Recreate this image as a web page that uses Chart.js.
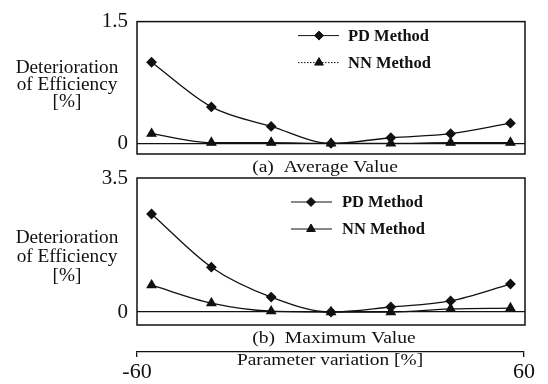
<!DOCTYPE html>
<html>
<head>
<meta charset="utf-8">
<script src="https://cdn.jsdelivr.net/npm/chart.js@4.4.1/dist/chart.umd.min.js"></script>
<style>
  html, body { margin: 0; padding: 0; background: #fff; }
  .wrap { position: absolute; left: 0; top: 0; width: 548px; height: 384px; }
</style>
</head>
<body>
<div class="wrap"><canvas id="avgChart"></canvas></div>
<div class="wrap"><canvas id="maxChart"></canvas></div>
<div class="wrap"><canvas id="axisChart"></canvas></div>
<script>
// Datos
const paramVariation = [-55.5, -37, -18.5, 0, 18.5, 37, 55.5];
const avgPD = [1.0, 0.45, 0.21, 0.0, 0.07, 0.12, 0.25];
const avgNN = [0.12, 0.01, 0.01, 0.0, 0.0, 0.01, 0.01];
const maxPD = [2.56, 1.17, 0.39, 0.0, 0.13, 0.29, 0.73];
const maxNN = [0.70, 0.23, 0.02, 0.0, 0.0, 0.08, 0.10];

const avgTicks = [0, 1.5];
const maxTicks = [0, 3.5];
const axisTicks = [-60, 60];

const seriesNames = ['PD Method', 'NN Method'];
const captions = ['(a)  Average Value', '(b)  Maximum Value'];
const yTitle = ['Deterioration', 'of Efficiency', '[%]'];
const xTitle = 'Parameter variation [%]';

const serif = '"Liberation Serif", "DejaVu Serif", serif';
const ink = '#111';

// texto algo mas ancho, como en la figura escaneada
function wideText(ctx, text, x, y, sx) {
    ctx.save();
    ctx.translate(x, y);
    ctx.scale(sx, 1);
    ctx.fillText(text, 0, 0);
    ctx.restore();
}

// marco, titulo del eje y, leyenda y pie de cada panel
const panelPlugin = {
    id: 'panel',
    afterDraw(chart, args, opts) {
        const ctx = chart.ctx;
        const a = chart.chartArea;
        ctx.save();
        ctx.fillStyle = ink;
        ctx.strokeStyle = ink;
        ctx.textAlign = 'center';
        ctx.textBaseline = 'middle';

        if (opts.frame) {
            ctx.lineWidth = 1.5;
            ctx.strokeRect(a.left, a.top, a.width, a.height);
        }

        if (opts.yTitle) {
            ctx.font = '18px ' + serif;
            opts.yTitle.forEach((t, i) => wideText(ctx, t, 67, a.top + opts.yTitleTop + i * opts.yTitleGap, 1.07));
        }

        if (opts.caption) {
            ctx.font = '17px ' + serif;
            wideText(ctx, opts.caption, opts.captionX, a.bottom + 14, 1.15);
        }

        if (opts.xTitle) {
            ctx.font = '17px ' + serif;
            wideText(ctx, opts.xTitle, opts.xTitleX, opts.xTitleY, 1.14);
        }

        if (opts.legend) {
            const lg = opts.legend;
            chart.data.datasets.forEach((ds, i) => {
                const y = a.top + lg.y[i];
                ctx.lineWidth = 1;
                ctx.setLineDash(lg.dash[i]);
                ctx.beginPath();
                ctx.moveTo(lg.x0, y);
                ctx.lineTo(lg.x1, y);
                ctx.stroke();
                ctx.setLineDash([]);
                Chart.helpers.drawPoint(ctx, {
                    pointStyle: ds.pointStyle,
                    radius: ds.pointRadius,
                    rotation: 0,
                    borderWidth: 1
                }, lg.mx, y);
                ctx.font = 'bold 16px ' + serif;
                ctx.textAlign = 'left';
                wideText(ctx, ds.label, lg.tx, y + 1, 1.03);
                ctx.textAlign = 'center';
            });
        }
        ctx.restore();
    }
};

function makeDataset(label, values, style, radius) {
    return {
        label: label,
        data: values.map((v, i) => ({ x: paramVariation[i], y: v })),
        borderColor: ink,
        backgroundColor: ink,
        borderWidth: 1.3,
        pointStyle: style,
        pointRadius: radius,
        pointBackgroundColor: ink,
        pointBorderColor: ink,
        cubicInterpolationMode: 'monotone'
    };
}

function createPanel(id, pd, nn, ticks, minY, top, bottom, extra) {
    const ctx = document.getElementById(id).getContext('2d');
    return new Chart(ctx, {
        type: 'line',
        data: {
            datasets: [
                makeDataset(seriesNames[0], pd, 'rectRot', 4.5),
                makeDataset(seriesNames[1], nn, 'triangle', 5)
            ]
        },
        options: {
            responsive: true,
            maintainAspectRatio: false,
            animation: false,
            events: [],
            layout: { padding: { left: 0, right: 23, top: top, bottom: 384 - bottom } },
            plugins: {
                legend: { display: false },
                tooltip: { enabled: false },
                panel: extra
            },
            scales: {
                x: {
                    type: 'linear',
                    min: -60,
                    max: 60,
                    display: false
                },
                y: {
                    min: minY,
                    max: ticks[ticks.length - 1],
                    afterBuildTicks: scale => { scale.ticks = ticks.map(v => ({ value: v })); },
                    afterFit: scale => { scale.width = 137; },
                    border: { display: false },
                    grid: {
                        drawTicks: false,
                        lineWidth: 1.2,
                        color: c => (c.tick && c.tick.value === 0) ? ink : 'rgba(0,0,0,0)'
                    },
                    ticks: {
                        padding: 9,
                        color: ink,
                        font: { family: serif, size: 21 },
                        callback: v => String(v)
                    }
                }
            }
        },
        plugins: [panelPlugin]
    });
}

function createAxis() {
    const ctx = document.getElementById('axisChart').getContext('2d');
    return new Chart(ctx, {
        type: 'line',
        data: { datasets: [] },
        options: {
            responsive: true,
            maintainAspectRatio: false,
            animation: false,
            events: [],
            layout: { padding: { left: 137, right: 24, top: 340, bottom: 0 } },
            plugins: {
                legend: { display: false },
                tooltip: { enabled: false },
                panel: { xTitle: xTitle, xTitleX: 330, xTitleY: 361 }
            },
            scales: {
                x: {
                    type: 'linear',
                    position: 'bottom',
                    min: -60,
                    max: 60,
                    afterBuildTicks: scale => { scale.ticks = axisTicks.map(v => ({ value: v })); },
                    afterFit: scale => { scale.height = 32; },
                    border: { display: true, color: ink, width: 1.3 },
                    grid: { drawOnChartArea: false, drawTicks: true, tickLength: 5, color: ink, lineWidth: 1.3 },
                    ticks: {
                        padding: 2,
                        color: ink,
                        maxRotation: 0,
                        font: { family: serif, size: 22 },
                        callback: v => String(v)
                    }
                },
                y: { display: false, min: 0, max: 1 }
            }
        },
        plugins: [panelPlugin]
    });
}

function initFigure() {
    createPanel('avgChart', avgPD, avgNN, avgTicks, -0.13, 17, 154, {
        frame: true,
        yTitle: yTitle, yTitleTop: 47, yTitleGap: 17,
        caption: captions[0], captionX: 325,
        legend: { y: [14, 41], x0: 298, x1: 339, mx: 319, tx: 348, dash: [[], [1.5, 1.5]] }
    });
    createPanel('maxChart', maxPD, maxNN, maxTicks, -0.34, 178, 325, {
        frame: true,
        yTitle: yTitle, yTitleTop: 60, yTitleGap: 19,
        caption: captions[1], captionX: 334,
        legend: { y: [24, 51], x0: 291, x1: 332, mx: 311, tx: 342, dash: [[], []] }
    });
    createAxis();
}

document.addEventListener('DOMContentLoaded', initFigure);
</script>
</body>
</html>
